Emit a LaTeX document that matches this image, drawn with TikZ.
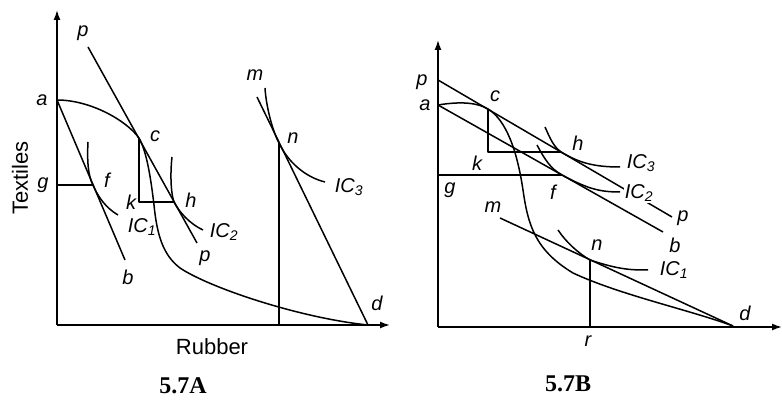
\documentclass[tikz,border=0pt]{standalone}
\usepackage{fontspec}
\setmainfont{Liberation Serif}
\setsansfont{Liberation Sans}
\usetikzlibrary{arrows.meta}

\tikzset{
    line/.style={line width=1.5pt, line join=round},
    axis/.style={line width=1.5pt, -{Latex[length=10pt,width=7pt]}},
    lbl/.style={font=\sffamily\itshape\fontsize{20}{20}\selectfont, inner sep=1pt},
    axis title/.style={font=\sffamily\fontsize{22}{22}\selectfont},
    caption/.style={font=\bfseries\fontsize{24}{24}\selectfont},
}
\newcommand{\icurve}[1]{IC\textsubscript{#1}}

\begin{document}
\begin{tikzpicture}[x=1pt, y=-1pt]
    \useasboundingbox (0,0) rectangle (782,403);

    % 5.7A: points of the left panel
    \coordinate (oA) at (57,325);
    \coordinate (ytopA) at (57,10);
    \coordinate (xendA) at (390,325);
    \coordinate (aA) at (57,100);
    \coordinate (cA) at (139,138);
    \coordinate (fA) at (93,185);
    \coordinate (gA) at (57,185);
    \coordinate (kA) at (139,202);
    \coordinate (hA) at (174,202);
    \coordinate (pA1) at (88,47);
    \coordinate (pA2) at (197,243);
    \coordinate (bA) at (125,260);
    \coordinate (mA) at (257,97);
    \coordinate (nA) at (279,143);
    \coordinate (rA) at (279,325);
    \coordinate (dA) at (368,325);

    \draw[axis] (oA) -- (ytopA);
    \draw[axis] (oA) -- (xendA);

    % transformation curve
    \draw[line] (aA) .. controls (90,100) and (126,120) .. (cA)
        .. controls (147,152) and (151,180) .. (154,205)
        .. controls (157,235) and (163,255) .. (180,268)
        .. controls (210,288) and (300,318) .. (dA);

    % price lines
    \draw[line] (pA1) -- (pA2);
    \draw[line] (aA) -- (bA);
    \draw[line] (mA) -- (dA);

    % trade triangles and projections
    \draw[line] (gA) -- (fA);
    \draw[line] (cA) -- (kA) -- (hA);
    \draw[line] (nA) -- (rA);

    % indifference curves
    \draw[line] (88,142) .. controls (87,160) and (88,176) .. (fA)
        .. controls (98,197) and (106,208) .. (118,215);
    \draw[line] (172,157) .. controls (170,175) and (171,194) .. (hA)
        .. controls (179,212) and (190,224) .. (203,230);
    \draw[line] (265,88) .. controls (266,105) and (272,130) .. (nA)
        .. controls (288,162) and (305,177) .. (325,182);

    \node[lbl] (laA) at (42,100) {a};
    \node[lbl] (lpA1) at (83,33) {p};
    \node[lbl] (lcA) at (155,136) {c};
    \node[lbl] (lgA) at (43,185) {g};
    \node[lbl] (lfA) at (107,180) {f};
    \node[lbl] (lkA) at (131,202) {k};
    \node[lbl] (lhA) at (191,200) {h};
    \node[lbl] (lic1A) at (142,227) {\icurve{1}};
    \node[lbl] (lic2A) at (224,232) {\icurve{2}};
    \node[lbl] (lpA2) at (205,258) {p};
    \node[lbl] (lbA) at (128,277) {b};
    \node[lbl] (lmA) at (255,75) {m};
    \node[lbl] (lnA) at (293,138) {n};
    \node[lbl] (lic3A) at (349,187) {\icurve{3}};
    \node[lbl] (ldA) at (377,303) {d};
    \node[axis title, rotate=90] (textiles) at (20,178) {Textiles};
    \node[axis title] (rubber) at (212,347) {Rubber};
    \node[caption] (capA) at (183,386) {5.7A};

    % 5.7B: points of the right panel
    \coordinate (oB) at (438,327);
    \coordinate (ytopB) at (438,40);
    \coordinate (xendB) at (782,327);
    \coordinate (aB) at (438,105);
    \coordinate (pB1) at (438,80);
    \coordinate (pB2) at (672,217);
    \coordinate (cB) at (488,109);
    \coordinate (kB) at (488,152);
    \coordinate (hB) at (561,152);
    \coordinate (gB) at (438,175);
    \coordinate (fB) at (562,175);
    \coordinate (bB) at (663,232);
    \coordinate (mB) at (500,218);
    \coordinate (nB) at (590,260);
    \coordinate (rB) at (590,327);
    \coordinate (dB) at (733,326);

    \draw[axis] (oB) -- (ytopB);
    \draw[axis] (oB) -- (xendB);

    % transformation curve
    \draw[line] (aB) .. controls (462,101) and (478,103) .. (cB)
        .. controls (506,120) and (517,150) .. (523,190)
        .. controls (528,225) and (535,250) .. (573,273)
        .. controls (620,295) and (690,310) .. (dB);

    % price lines
    \draw[line] (pB1) -- (pB2);
    \draw[line] (aB) -- (bB);
    \draw[line] (mB) -- (dB);

    % trade triangles and projection
    \draw[line] (gB) -- (fB);
    \draw[line] (cB) -- (kB) -- (hB);
    \draw[line] (nB) -- (rB);

    % indifference curves
    \draw[line] (545,127) .. controls (550,138) and (553,146) .. (hB)
        .. controls (578,162) and (592,167) .. (620,167);
    \draw[line] (537,145) .. controls (545,160) and (551,169) .. (fB)
        .. controls (588,189) and (600,192) .. (620,192);
    \draw[line] (558,230) .. controls (566,242) and (578,253) .. (nB)
        .. controls (620,270) and (632,270) .. (648,270);

    \node[lbl] (lpB1) at (422,82) {p};
    \node[lbl] (laB) at (425,105) {a};
    \node[lbl] (lcB) at (495,96) {c};
    \node[lbl] (lkB) at (477,163) {k};
    \node[lbl] (lhB) at (578,143) {h};
    \node[lbl] (lgB) at (450,190) {g};
    \node[lbl] (lfB) at (553,192) {f};
    \node[lbl] (lic3B) at (641,163) {\icurve{3}};
    \node[lbl, fill=white] (lic2B) at (639,193) {\icurve{2}};
    \node[lbl] (lpB2) at (683,218) {p};
    \node[lbl] (lbB) at (675,245) {b};
    \node[lbl] (lmB) at (493,207) {m};
    \node[lbl] (lnB) at (597,245) {n};
    \node[lbl] (lic1B) at (674,270) {\icurve{1}};
    \node[lbl] (ldB) at (745,313) {d};
    \node[lbl] (lrB) at (588,341) {r};
    \node[caption] (capB) at (568,384) {5.7B};

\end{tikzpicture}
\end{document}
